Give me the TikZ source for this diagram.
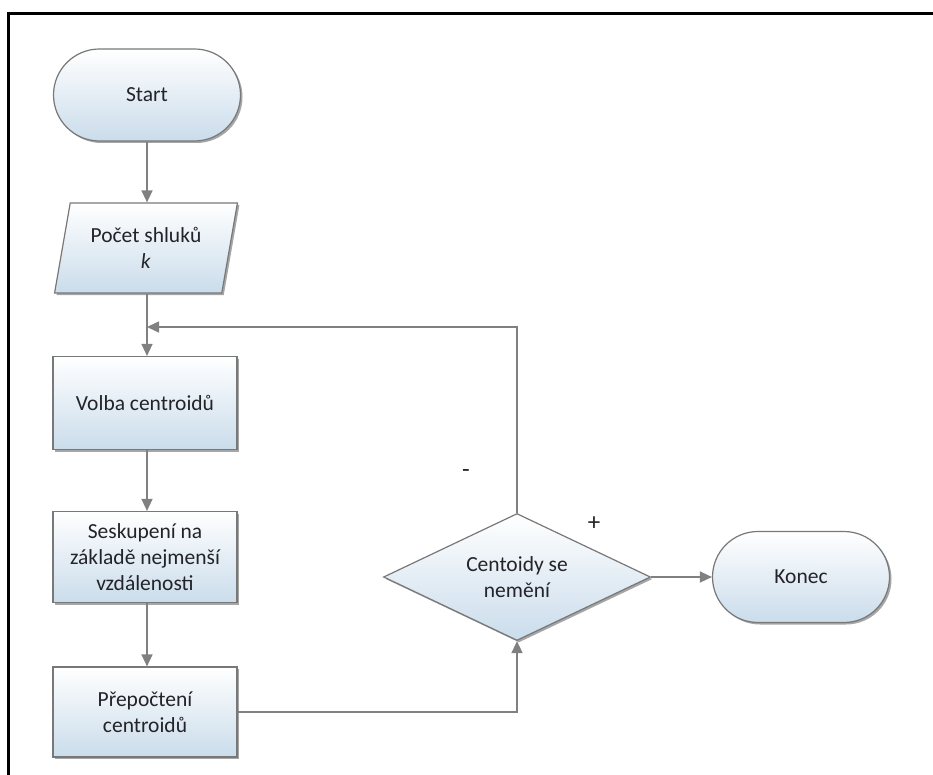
\documentclass[tikz,border=0pt]{standalone}
\usepackage{fontspec}
\setmainfont{Carlito}
\usetikzlibrary{shapes.geometric,shapes.misc,arrows.meta,shadows}
\definecolor{boxborder}{RGB}{120,120,120}
\definecolor{boxbottom}{RGB}{202,220,235}
\definecolor{arrowgray}{RGB}{128,128,128}
\definecolor{txt}{RGB}{35,35,40}
\tikzset{
  base/.style={draw=boxborder, line width=1.2pt, top color=white, bottom color=boxbottom,
    text=txt, font=\fontsize{21.5}{26}\selectfont, align=center, inner sep=0pt,
    drop shadow={shadow xshift=2pt, shadow yshift=-2pt, fill=black, opacity=0.35}},
  term/.style={base, rounded rectangle},
  proc/.style={base, rectangle},
  inbox/.style={base, trapezium, trapezium left angle=74.5, trapezium right angle=105.5, trapezium stretches=true},
  dec/.style={base, diamond, shape aspect=2},
  conn/.style={draw=arrowgray, line width=1.5pt, -{Triangle[length=12pt,width=11pt]}, color=arrowgray},
  line/.style={draw=arrowgray, line width=1.5pt},
  sign/.style={text=txt, font=\fontsize{25}{26}\selectfont}
}
\begin{document}
\begin{tikzpicture}[x=1pt,y=-1pt]
\useasboundingbox (0,0) rectangle (933,775);
\fill[white] (0,0) rectangle (933,775);
% frame
\draw[line width=3pt, black] (933,13.5) -- (8,13.5) -- (8,775);
% nodes
\node[term, minimum width=187pt, minimum height=92pt] (start) at (147,95) {Start};
\node[inbox, minimum width=183pt, minimum height=90pt] (k) at (146,248) {Počet shluků\\\textit{k}};
\node[proc, minimum width=184pt, minimum height=93pt] (volba) at (145,403) {Volba centroidů};
\node[proc, minimum width=184pt, minimum height=91pt] (sesk) at (145,557) {Seskupení na\\základě nejmenší\\vzdálenosti};
\node[proc, minimum width=184pt, minimum height=90pt] (prep) at (145,712) {Přepočtení\\centroidů};
\node[dec, minimum width=267pt, minimum height=127pt] (dec) at (517,577) {Centoidy se\\nemění};
\node[term, minimum width=177pt, minimum height=91pt] (konec) at (801,577) {Konec};
\coordinate (join) at (147,327);
% labels
\node[sign] (minus) at (466,474) {-};
\node[sign] (plus) at (594,524) {+};
% connectors
\draw[conn] (start.south -| join) -- (k.north -| join);
\draw[line] (k.south -| join) -- (join);
\draw[conn] (join) -- (volba.north -| join);
\draw[conn] (volba.south -| join) -- (sesk.north -| join);
\draw[conn] (sesk.south -| join) -- (prep.north -| join);
\draw[conn] (prep.east) -| (dec.south);
\draw[conn] (dec.north) |- (join);
\draw[conn] (dec.east) -- (konec.west);
\end{tikzpicture}
\end{document}
